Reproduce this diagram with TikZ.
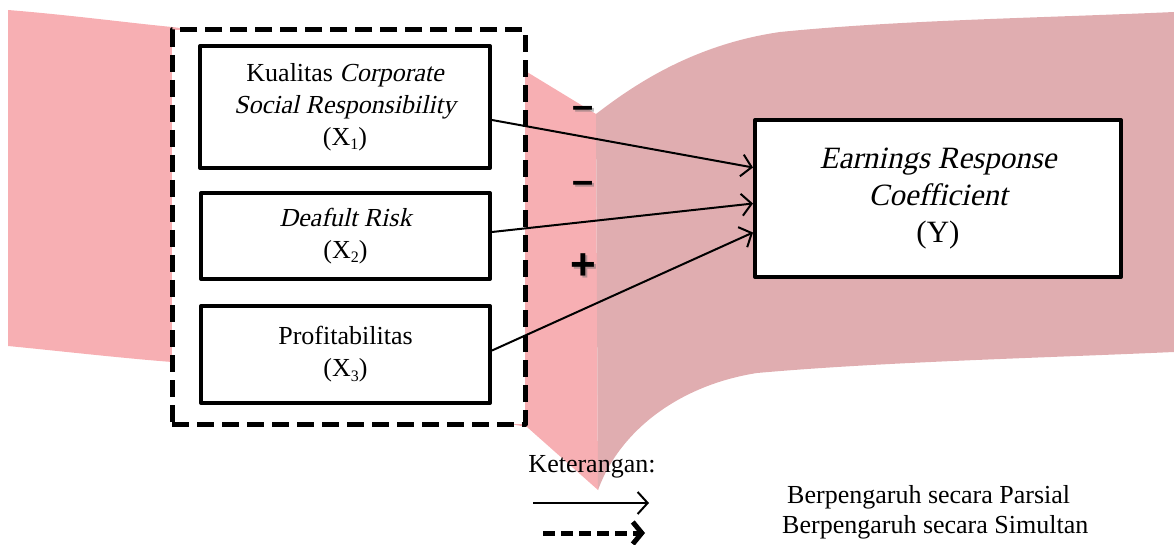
\documentclass[tikz,border=0pt]{standalone}
\usepackage{fontspec}
\setmainfont{Liberation Serif}
\newfontfamily\slfont{Liberation Serif}[FakeSlant=0.22]
\newfontfamily\signfont{Liberation Sans}
\usetikzlibrary{arrows.meta}
\definecolor{pinkL}{RGB}{247,175,179}
\definecolor{pinkD}{RGB}{224,173,176}
\newcommand{\sbs}[1]{\raisebox{-.35ex}{\fontsize{16}{16}\selectfont #1}}
\newcommand{\ital}[1]{{\slfont #1}}
\tikzset{
	var/.style={draw, line width=4pt, fill=white, align=center, inner sep=0pt, font=\fontsize{26}{32}\selectfont},
	grp/.style={draw, line width=5pt, dash pattern=on 17pt off 8pt, fill=white, inner sep=0pt},
	rel/.style={line width=2pt, -{Straight Barb[length=10pt,width=22pt]}},
	sign/.style={font=\signfont\bfseries\fontsize{#1}{#1}\selectfont, inner sep=0pt},
	signsh/.style={sign=#1, text=black!60, opacity=.45},
	lgd/.style={font=\fontsize{26}{30}\selectfont, inner sep=0pt}
}
\begin{document}
\begin{tikzpicture}[x=1pt, y=-1pt, line join=round]
	\useasboundingbox (0,0) rectangle (1174,545);
	% latar
	\fill[pinkL] (8,10) .. controls (70,15) and (130,23) .. (172,27) -- (527,72) -- (596,114) -- (598,490) -- (527,427) -- (172,362) .. controls (120,358) and (50,350) .. (8,346) -- cycle;
	\fill[pinkD] (596,114) .. controls (630,88) and (690,45) .. (780,32) .. controls (900,20) and (1040,18) .. (1174,12) -- (1174,352) .. controls (1040,358) and (880,362) .. (757,373) .. controls (680,385) and (620,430) .. (598,490) -- cycle;
	% variabel
	\node[grp, minimum width=353pt, minimum height=394pt] (grp) at (348.5,227) {};
	\node[var, minimum width=290pt, minimum height=122pt] (x1) at (345,107) {Kualitas \ital{Corporate}\\\ital{Social Responsibility}\\(X\sbs{1})};
	\node[var, minimum width=289pt, minimum height=86pt] (x2) at (345.5,236) {\ital{Deafult Risk}\\(X\sbs{2})};
	\node[var, minimum width=289pt, minimum height=97pt] (x3) at (345.5,354.5) {Profitabilitas\\(X\sbs{3})};
	\node[var, minimum width=366pt, minimum height=157pt, font=\fontsize{31}{37}\selectfont] (y) at (938,198.5) {\ital{Earnings Response}\\\ital{Coefficient}\\(Y)};
	\draw[rel] ([yshift=-13pt]x1.east) -- ([yshift=31pt]y.west);
	\draw[rel] ([yshift=4pt]x2.east) -- ([yshift=-5pt]y.west);
	\draw[rel] ([yshift=4pt]x3.east) -- ([yshift=-34pt]y.west);
	\foreach \n/\p/\s/\f in {s1/112/–/38, s2/187/–/38, s3/267/+/44}{
		\node[signsh=\f] (\n sh) at (585,\p+2) {\s};
		\node[sign=\f] (\n) at (583,\p) {\s};
	}
	% keterangan
	\node[lgd] (ket) at (592,467) {Keterangan:};
	\coordinate (pa) at (533,503); \coordinate (pb) at (649,503);
	\coordinate (sa) at (543,533); \coordinate (sb) at (645,533);
	\draw[rel] (pa) -- (pb);
	\draw[line width=5pt, dash pattern=on 12pt off 6pt, -{Straight Barb[length=9pt,width=22pt]}] (sa) -- (sb);
	\node[lgd, anchor=west] (lp) at (787,497) {Berpengaruh secara Parsial};
	\node[lgd, anchor=west] (ls) at (782,527) {Berpengaruh secara Simultan};
\end{tikzpicture}
\end{document}
